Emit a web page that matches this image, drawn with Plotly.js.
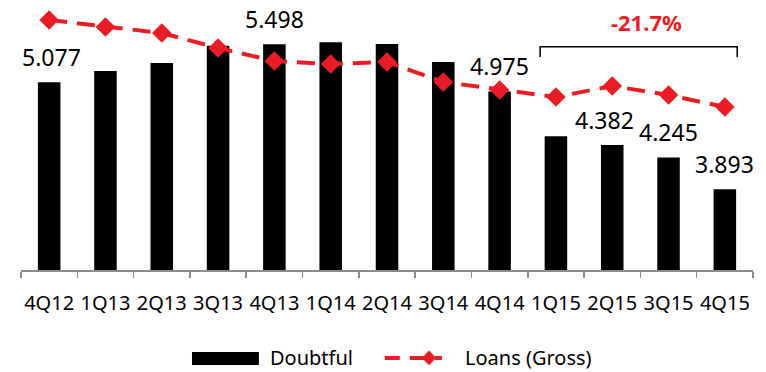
<!DOCTYPE html>
<html>
<head>
<meta charset="utf-8">
<script src="https://cdn.plot.ly/plotly-3.0.1.min.js"></script>
<style>html,body{margin:0;padding:0;background:#fff;}#chart{width:766px;height:372px;}</style>
</head>
<body>
<div id="chart"></div>
<script>
var quarters = ["4Q12","1Q13","2Q13","3Q13","4Q13","1Q14","2Q14","3Q14","4Q14","1Q15","2Q15","3Q15","4Q15"];
var doubtful = [5.077, 5.20, 5.29, 5.48, 5.498, 5.52, 5.50, 5.30, 4.975, 4.48, 4.382, 4.245, 3.893];
var loansGross = [65.0, 64.3, 63.7, 62.2, 60.9, 60.6, 60.8, 58.8, 58.0, 57.3, 58.4, 57.5, 56.3];
var labelText = ["5.077", "", "", "", "5.498", "", "", "", "4.975", "", "4.382", "4.245", "3.893"];
var changeText = "-21.7%";

var RED = "#ED1C24";
var FONT = "'Noto Sans', 'Open Sans', sans-serif";

var bars = {
  type: "bar", x: quarters, y: doubtful, name: "Doubtful",
  marker: {color: "#000000"}, base: 0, yaxis: "y", showlegend: false
};
var line = {
  type: "scatter", mode: "lines+markers", x: quarters, y: loansGross, name: "Loans (Gross)",
  yaxis: "y2", line: {color: RED, width: 4, dash: "18px,10px"},
  marker: {symbol: "diamond", size: 15, color: RED}, showlegend: false
};

var annotations = [];
for (var i = 0; i < quarters.length; i++) {
  if (labelText[i]) {
    annotations.push({
      x: quarters[i], y: doubtful[i], xref: "x", yref: "y",
      text: labelText[i], showarrow: false, yanchor: "middle", yshift: 25,
      xshift: (i === 10 ? -8 : (i === 0 ? 2 : 0)),
      font: {family: FONT, size: 23, color: "#000"}
    });
  }
}
annotations.push({
  x: 10.6, y: 0.952, xref: "x", yref: "paper", text: "<b>" + changeText + "</b>",
  showarrow: false, xanchor: "center", yanchor: "middle",
  font: {family: FONT, size: 22, color: RED}
});
// legend texts
annotations.push({x: 0.3374, y: -0.338, xref: "paper", yref: "paper", xanchor: "left", yanchor: "middle",
  text: "Doubtful", showarrow: false, font: {family: FONT, size: 20, color: "#000"}});
annotations.push({x: 0.604, y: -0.338, xref: "paper", yref: "paper", xanchor: "left", yanchor: "middle",
  text: "Loans (Gross)", showarrow: false, font: {family: FONT, size: 20, color: "#000"}});

var shapes = [
  // bracket
  {type: "path", xref: "x", yref: "paper",
   path: "M 8.72,0.819 L 8.72,0.859 L 12.22,0.859 L 12.22,0.819",
   line: {color: "#000", width: 1.5}},
  // legend: doubtful box
  {type: "rect", xref: "paper", yref: "paper", x0: 0.2336, x1: 0.325, y0: -0.365, y1: -0.315,
   fillcolor: "#000", line: {width: 0}},
  // legend: loans line
  {type: "line", xref: "paper", yref: "paper", x0: 0.497, x1: 0.575, y0: -0.338, y1: -0.338,
   line: {color: RED, width: 4, dash: "15px,10px"}},
  {type: "path", xref: "paper", yref: "paper",
   path: "M 0.5478,-0.338 L 0.5574,-0.310 L 0.5670,-0.338 L 0.5574,-0.366 Z",
   fillcolor: RED, line: {width: 0}}
];

var layout = {
  width: 766, height: 372,
  margin: {l: 21, r: 13, t: 10, b: 102},
  paper_bgcolor: "#fff", plot_bgcolor: "#fff",
  bargap: 0.6,
  font: {family: FONT, size: 20, color: "#000"},
  xaxis: {
    type: "category", range: [-0.5, 12.5], autorange: false,
    showline: true, linecolor: "#8c8c8c", linewidth: 1.5,
    ticks: "outside", tickson: "boundaries", ticklen: 6, tickcolor: "#8c8c8c", tickwidth: 1.5,
    ticklabelstandoff: 14,
    tickangle: 0, tickfont: {family: FONT, size: 20, color: "#000"}, showgrid: false, zeroline: false,
    fixedrange: true
  },
  yaxis: {range: [3.0, 5.876], visible: false, showgrid: false, zeroline: false},
  yaxis2: {range: [40, 66], overlaying: "y", side: "right", visible: false, showgrid: false, zeroline: false},
  showlegend: false,
  annotations: annotations,
  shapes: shapes
};

Plotly.newPlot("chart", [bars, line], layout, {displayModeBar: false, staticPlot: true});
</script>
</body>
</html>
